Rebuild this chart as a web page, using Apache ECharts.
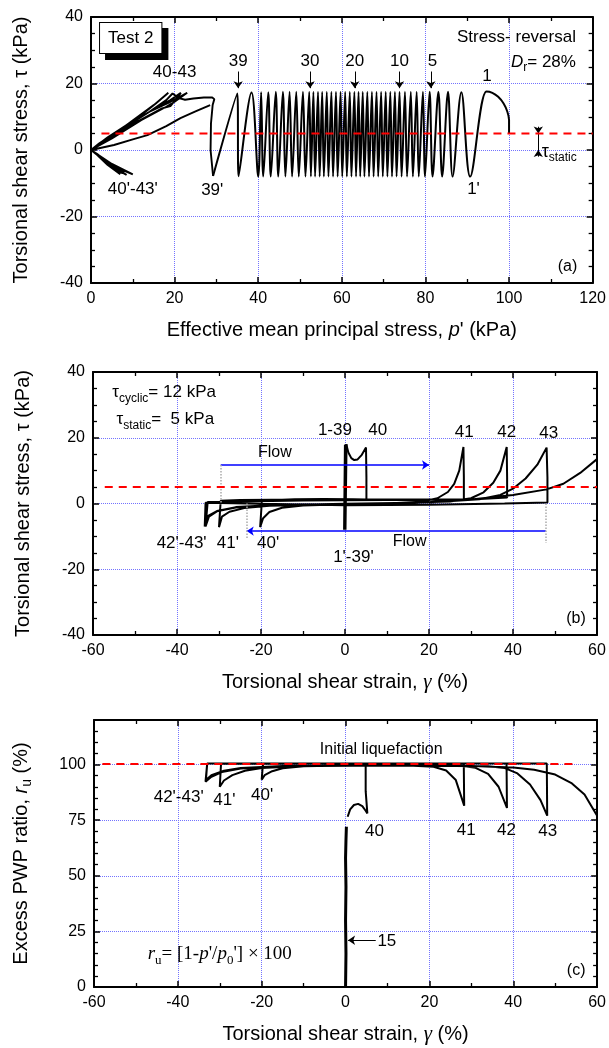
<!DOCTYPE html>
<html><head><meta charset="utf-8">
<script src="https://cdn.jsdelivr.net/npm/echarts@6/dist/echarts.min.js"></script>
<style>html,body{margin:0;padding:0;background:#fff}#c{width:609px;height:1048px}</style>
</head><body><div id="c"></div><script>
// ===== Panel (a): p' (kPa) vs tau (kPa) =====
const aInitialLoading = [[100,5],[100,9],[99.6,11.5],[98.7,14],[97.4,16],[96,17.2]];
const aPeakP   = [94.6,88.6,85.4,83.1,81.0,79.4,77.9,76.5,75.1,73.8,72.7,71.6,70.5,69.4,68.3,67.2,66.1,65.0,64.0,63.0,61.9,60.8,59.7,58.6,57.5,56.4,55.3,54.3,53.2,52.2,50.7,49.1,47.5,45.9,44.2,42.4,40.7,38.4,35.0];
const aPeakTau = [17.6,17.4,17.5,17.5,17.5,17.5,17.5,17.5,17.5,17.5,17.5,17.5,17.5,17.5,17.5,17.5,17.5,17.5,17.5,17.5,17.5,17.5,17.5,17.5,17.5,17.5,17.5,17.5,17.5,17.5,17.5,17.5,17.5,17.5,17.5,17.4,17.4,17.3,17.0];
const aTroughP   = [90.7,86.5,84.0,81.7,79.9,78.4,77.0,75.6,74.3,73.1,72.0,70.9,69.8,68.7,67.6,66.5,65.4,64.4,63.4,62.3,61.2,60.1,59.0,57.9,56.8,55.7,54.7,53.6,52.6,51.3,49.7,48.1,46.5,44.8,43.0,41.2,40.0,35.3,29.2];
const aTroughTau = [-8.0,-8.0,-8.0,-8.0,-8.0,-8.0,-8.0,-8.0,-8.0,-8.0,-8.0,-8.0,-8.0,-8.0,-8.0,-8.0,-8.0,-8.0,-8.0,-8.0,-8.0,-8.0,-8.0,-8.0,-8.0,-8.0,-8.0,-8.0,-8.0,-8.0,-8.0,-8.0,-8.0,-8.0,-8.0,-8.0,-8.0,-7.9,-7.8];
const aFlowPath = [[29.2,-7.8],[28.6,0],[28.7,8],[29.1,13.5],[29.5,15.3],[29,15.8],[27,15.8],[24.5,15.5],[22.5,15.1],[21,15.6],[19.5,17.0],
  [18,15],[14,11.5],[9,7.5],[4,3.5],[1,0.8],[0,0],[3,-3],[7,-7.3],[4,-4.5],[1.5,-1.5],[0,0],
  [2,2],[8,7],[14,11.5],[19,14.5],[23,17.2],[20,14.5],[18,13],[12,9],[5,3.5],[0,0],
  [4,-3.5],[8.5,-7.5],[5,-5],[1.5,-1.5],[0,0],
  [3,2.8],[10,8.5],[16,13],[19,15],[21.5,17.2],[19,13.2],[17,12.5],[11,8.5],[4,3],[0,0],
  [5,-4.2],[10,-7.3],[6,-5.2],[2,-1.8],[0,0],
  [4,3.8],[11,9.5],[15.5,14],[18.5,17.2],[15,13.5],[9,8],[3,2.5],[0,0],
  [4,-3.5],[7.5,-7],[4.5,-4.5],[1.5,-1.2],[0,0],
  [5.5,1.5],[10,3.2],[13.5,4.5],[18,7.2],[21.4,9.6],[25,11.6],[28.5,13.5]];
const aStaticLine = [[2.5,5],[120,5]];
const aArrowP = [35.2,52.4,63.1,73.8,81.3];

// ===== Panel (b): gamma (%) vs tau (kPa) =====
const bCyclicPath = [[0,5],[0.1,17.8],[-0.1,-8],[0.15,17.8],[-0.05,-8],[0.2,17.9],[0,-8],[0.25,18]];
const bFlowPath = [[0.3,18],[0.8,15.5],[1.5,13.8],[2.2,13.2],[3,13.4],[4,14.8],[5,17],
  [5.1,8],[5.1,1.2],[2,1.3],[-5,1.4],[-12,1.3],[-18,1.0],[-19.8,0.6],[-20.2,-7.2],
  [-19.5,-4.5],[-18,-2.6],[-15,-1.3],[-10,-0.6],[0,-0.2],[10,0],[18,0.5],[22,1.6],[24.5,3.5],[26,6],[27.2,10],[28.2,17.2],
  [28.3,8],[28.3,1.3],[20,1.2],[5,1.2],[-10,1.2],[-25,1.1],[-29.6,0.8],[-30,-7.2],
  [-29.3,-4],[-27.5,-2.5],[-24,-1.4],[-18,-0.7],[-5,-0.3],[10,0.1],[25,0.6],[30,1.6],[33,3.4],[35.3,6.3],[37,10],[38.5,17.2],
  [38.6,8],[38.6,1.8],[30,1.2],[10,1.1],[-10,0.9],[-25,0.6],[-32.7,0.4],[-33.2,-7],
  [-32.4,-4],[-30.5,-2.4],[-26,-1.2],[-18,-0.5],[0,-0.1],[20,0.3],[32,1.3],[37,2.6],[40,4.5],[43,7.6],[45.8,11.8],[48,17],
  [48.2,8],[48.2,0.3],[38,0],[20,-0.4],[0,-0.5],[-20,-0.1],[-33.2,0.2],[-33.4,-7],
  [-32.6,-3.8],[-30.5,-2.3],[-26,-1.1],[-18,-0.5],[0,-0.3],[15,0],[30,1.2],[40,2.6],[48,4.3],[52,6],[56,9.3],[60,13.5]];
const bStaticLine = [[-57.2,5],[60,5]];

// ===== Panel (c): gamma (%) vs r_u (%) =====
const cCyclicPath = [[0,0],[0.1,15],[0,30],[0.1,45],[0,58],[0.1,66],[0.2,72]];
const cFlowPath = [[0.5,76.5],[1.1,79.8],[2,81.8],[3,82.3],[4,81.3],[4.8,79.2],[5.2,78],
  [4.8,88],[4.8,100.3],[-5,100.3],[-19.7,100.3],[-20,93.2],
  [-19.3,95.2],[-17.5,97],[-15,98.3],[-10,99.2],[0,99.6],[15,99.6],[21,99],[24,97.3],[26.3,93],[28.3,81.5],
  [28.2,100.3],[10,100.3],[-29.7,100.3],[-30,90],
  [-29,92.8],[-27,95.2],[-24,97.2],[-20,98.4],[-10,99.3],[10,99.6],[27,99.5],[31,98.5],[34,95.8],[36.5,90],[38.5,80.5],
  [38.4,100.4],[10,100.4],[-33,100.4],[-33.3,93],
  [-32,95.2],[-29,97.2],[-25,98.4],[-15,99.3],[10,99.6],[34,99.2],[38,98.4],[41,96],[44,91],[46.5,84],[48.1,77],
  [48,100.5],[10,100.5],[-33,100.5],[-33.4,92.3],
  [-32,94.5],[-29.5,96.6],[-25,98.2],[-15,99.2],[10,99.5],[30,99.3],[40,98.6],[45,97.6],[50,95.5],[54,91.5],[57,86.5],[60,77]];
const cLiqLine = [[-58,100.2],[55,100.2]];

// ===== build =====
const FONT = '"Liberation Sans", Arial, sans-serif';
const SERIF = '"Liberation Serif", "Times New Roman", serif';
function mkRich(fs){
  const s = Math.round(fs*0.68);
  return {
    n:{fontFamily:FONT,fontSize:fs,color:'#000',verticalAlign:'middle'},
    i:{fontFamily:FONT,fontSize:fs,fontStyle:'italic',color:'#000',verticalAlign:'middle'},
    g:{fontFamily:SERIF,fontSize:fs+1,fontStyle:'italic',color:'#000',verticalAlign:'middle'},
    sub:{fontFamily:FONT,fontSize:s,lineHeight:s,color:'#000',verticalAlign:'bottom'},
    t:{fontFamily:SERIF,fontSize:fs,fontStyle:'italic',color:'#000',verticalAlign:'middle'},
    tn:{fontFamily:SERIF,fontSize:fs,color:'#000',verticalAlign:'middle'},
    tsub:{fontFamily:SERIF,fontSize:s,lineHeight:s,color:'#000',verticalAlign:'bottom'}
  };
}
const xAxes=[], yAxes=[];
function axis(g, r, pos, main, name, gap){
  return {
    gridIndex:g, type:'value', min:r[0], max:r[1], interval:r[2], position:pos,
    axisLine:{show:true,onZero:false,lineStyle:{color:'#000',width:2}},
    axisTick:{show:true,inside:true,length:6,lineStyle:{color:'#000',width:1.5}},
    minorTick:{show:true,splitNumber:r[3],length:4,lineStyle:{color:'#000',width:1.3}},
    splitLine:{show:main,lineStyle:{color:'#7373ff',type:'dotted',width:1}},
    axisLabel:{show:main,color:'#000',fontSize:16,fontFamily:FONT,margin:8,showMaxLabel:r[4]!==false},
    name: main?name:'', nameLocation:'middle', nameGap:gap,
    nameTextStyle:{color:'#000',fontSize:20,fontFamily:FONT,lineHeight:26,rich:mkRich(20)}
  };
}
function panel(g, xr, yr, xName, yName, xGap, yGap){
  xAxes.push(axis(g,xr,'bottom',true,xName,xGap)); xAxes.push(axis(g,xr,'top',false,'',0));
  yAxes.push(axis(g,yr,'left',true,yName,yGap)); yAxes.push(axis(g,yr,'right',false,'',0));
}
panel(0,[0,120,20,2],[-40,40,20,4],"Effective mean principal stress, {i|p}' (kPa)",'Torsional shear stress, τ (kPa)',34,57);
panel(1,[-60,60,20,2],[-40,40,20,4],'Torsional shear strain, {g|γ} (%)','Torsional shear stress, τ (kPa)',34,57);
panel(2,[-60,60,20,2],[0,120,25,5,false],'Torsional shear strain, {g|γ} (%)','Excess PWP ratio, {i|r}{sub|u} (%)',34,60);

function line(g, data, opt){
  return Object.assign({type:'line',xAxisIndex:2*g,yAxisIndex:2*g,data:data,showSymbol:false,symbol:'none',
    silent:true,animation:false,clip:true,lineStyle:{color:'#000',width:1.8}},opt||{});
}
function T(x,y,text,o){
  o=o||{};
  return {value:[x,y],label:Object.assign({formatter:text,fontSize:o.fs||16,rich:mkRich(o.fs||16),align:o.align||'center',lineHeight:o.lh||20},o.extra||{})};
}
function textSeries(g, items, marks){
  const s = {type:'scatter',xAxisIndex:2*g,yAxisIndex:2*g,symbolSize:0,silent:true,animation:false,z:10,
    itemStyle:{opacity:1,color:'#000'},
    label:{show:true,position:'inside',color:'#000',opacity:1,textBorderWidth:0,textBorderColor:'transparent',fontFamily:FONT,verticalAlign:'middle'},
    data:items};
  if(marks){ s.markLine = {silent:true,animation:false,symbol:['none','arrow'],symbolSize:7,label:{show:false},
    lineStyle:{color:'#000',width:1,type:'solid',opacity:1},data:marks}; }
  return s;
}
function seg(x1,y1,x2,y2,ls,sym){
  const a = {coord:[x1,y1],lineStyle:ls,symbol:'none'};
  const b = {coord:[x2,y2],symbol:sym||'arrow'};
  return [a,b];
}

// panel a cyclic loops
const aLoops = aInitialLoading.slice();
for(let i=0;i<aPeakP.length;i++){ aLoops.push([aPeakP[i],aPeakTau[i]]); aLoops.push([aTroughP[i],aTroughTau[i]]); }

const red = {lineStyle:{color:'#ff0000',width:2,type:[8,6]},z:5};
const series = [
  line(0,aLoops,{smooth:0.35,lineStyle:{color:'#000',width:2}}),
  line(0,aFlowPath,{lineStyle:{color:'#000',width:1.9}}),
  line(0,aStaticLine,red),
  line(1,bCyclicPath,{lineStyle:{color:'#000',width:3}}),
  line(1,bFlowPath,{lineStyle:{color:'#000',width:2}}),
  line(1,bStaticLine,red),
  line(2,cCyclicPath,{lineStyle:{color:'#000',width:3}}),
  line(2,cFlowPath,{lineStyle:{color:'#000',width:2}}),
  line(2,cLiqLine,red),
  textSeries(0,[
    T(9.5,33.7,'Test 2',{fs:17,extra:{backgroundColor:'#fff',borderColor:'#000',borderWidth:1,padding:[5,8,5,8],shadowColor:'#000',shadowOffsetX:6,shadowOffsetY:6,shadowBlur:0}}),
    T(116,34,'Stress- reversal',{fs:17,align:'right'}),
    T(116,26.5,'{i|D}{sub|r}{n|= 28%}',{fs:17,align:'right',lh:24}),
    T(35.2,26.8,'39',{fs:17}),T(52.4,26.8,'30',{fs:17}),T(63.1,26.8,'20',{fs:17}),T(73.8,26.8,'10',{fs:17}),T(81.7,26.8,'5',{fs:17}),
    T(94.7,22.3,'1',{fs:17}),
    T(20,23.5,'40-43',{fs:17}),
    T(10,-11.7,"40'-43'",{fs:17}),
    T(29,-12.2,"39'",{fs:17}),
    T(91.5,-11.7,"1'",{fs:17}),
    T(114,-35,'(a)',{fs:16}),
    T(107.8,-0.6,'{n|τ}{sub|static}',{fs:18,align:'left',lh:24})
  ],[
    ...aArrowP.map(x=>seg(x,23.6,x,18.6,{color:'#000',width:1})),
    seg(107,7,107,5,{color:'#000',width:1}),
    seg(107,-2,107,0,{color:'#000',width:1}),
    seg(107,5,107,0,{color:'#000',width:1},'none')
  ]),
  textSeries(1,[
    T(-55.4,33.7,'{n|τ}{sub|cyclic}{n|= 12 kPa}',{fs:17,align:'left',lh:24}),
    T(-54.4,25.6,'{n|τ}{sub|static}{n|=  5 kPa}',{fs:17,align:'left',lh:24}),
    T(-2.4,22.4,'1-39',{fs:17}),T(7.8,22.4,'40',{fs:17}),
    T(28.4,21.6,'41',{fs:17}),T(38.5,21.6,'42',{fs:17}),T(48.5,21.2,'43',{fs:17}),
    T(-16.7,15.4,'Flow',{fs:16}),T(15.4,-11.6,'Flow',{fs:16}),
    T(-38.9,-12,"42'-43'",{fs:17}),T(-27.9,-12,"41'",{fs:17}),T(-18.3,-12,"40'",{fs:17}),
    T(2,-16.5,"1'-39'",{fs:17}),
    T(55,-35,'(b)',{fs:16})
  ],[
    seg(-29.6,11.7,20,11.7,{color:'#0000ff',width:1.5}),
    seg(47.8,-8.4,-23.4,-8.4,{color:'#0000ff',width:1.5}),
    seg(-29.6,11.7,-29.6,0,{color:'#aaaaaa',width:1.5,type:'dotted'},'none'),
    seg(-23.5,0,-23.5,-10.5,{color:'#aaaaaa',width:1.5,type:'dotted'},'none'),
    seg(47.8,0,47.8,-12,{color:'#aaaaaa',width:1.5,type:'dotted'},'none')
  ]),
  textSeries(2,[
    T(8.5,106.7,'Initial liquefaction',{fs:16}),
    T(-39.8,85.3,"42'-43'",{fs:17}),T(-28.9,83.8,"41'",{fs:17}),T(-19.9,86,"40'",{fs:17}),
    T(6.9,69.8,'40',{fs:17}),T(28.8,70.4,'41',{fs:17}),T(38.4,70.4,'42',{fs:17}),T(48.2,69.8,'43',{fs:17}),
    T(7.6,20.7,'15',{fs:17,align:'left'}),
    T(-30,14.7,"{t|r}{tsub|u}{tn|= [1-}{t|p}{tn|'/}{t|p}{tsub|0}{tn|'] × 100}",{fs:19,lh:26}),
    T(55,7.2,'(c)',{fs:16})
  ],[
    seg(7.2,21,0.6,21,{color:'#000',width:1})
  ])
];

const chart = echarts.init(document.getElementById('c'));
chart.setOption({
  animation:false,
  backgroundColor:'#fff',
  grid:[
    {left:90,top:17,width:505,height:266},
    {left:93,top:372,width:504,height:263},
    {left:93,top:720,width:507,height:268}
  ],
  xAxis:xAxes, yAxis:yAxes, series:series
});
</script></body></html>
